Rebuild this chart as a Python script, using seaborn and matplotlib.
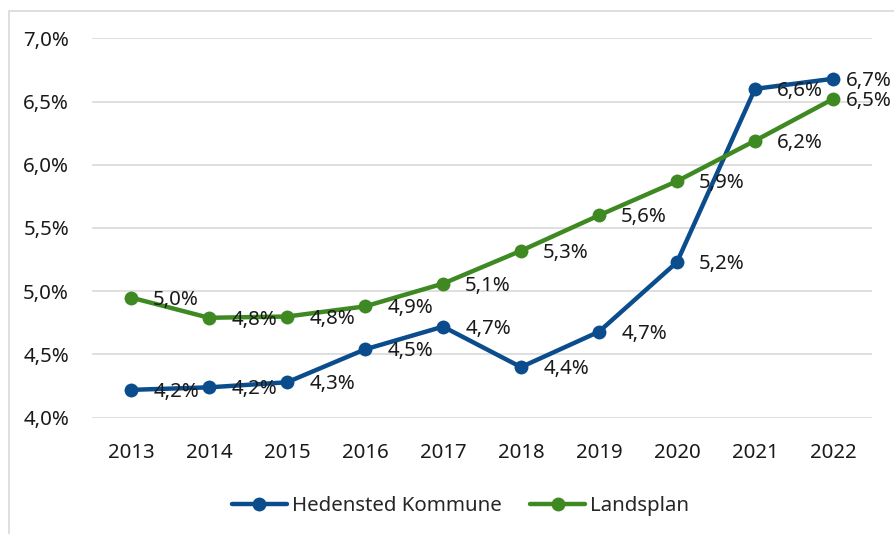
import numpy as np
import pandas as pd
import matplotlib
matplotlib.use("Agg")
import matplotlib.pyplot as plt
import seaborn as sns
from matplotlib.ticker import FuncFormatter
from matplotlib.patches import Rectangle

# Data
years = [2013, 2014, 2015, 2016, 2017, 2018, 2019, 2020, 2021, 2022]
hedensted = [4.22, 4.24, 4.28, 4.54, 4.72, 4.40, 4.68, 5.23, 6.60, 6.68]
landsplan = [4.95, 4.79, 4.80, 4.88, 5.06, 5.32, 5.60, 5.87, 6.19, 6.52]
series_names = ["Hedensted Kommune", "Landsplan"]
colors = ["#0B4D8C", "#3F8923"]

df = pd.DataFrame({
    "year": years * 2,
    "value": hedensted + landsplan,
    "series": [series_names[0]] * len(years) + [series_names[1]] * len(years),
})

sns.set_style("white")
plt.rcParams["font.family"] = ["Noto Sans", "DejaVu Sans"]
FS = 14.7

fig = plt.figure(figsize=(8.94, 5.34), dpi=100)
ax = fig.add_axes([0.1029, 0.2178, 0.8725, 0.7105])

sns.lineplot(data=df, x="year", y="value", hue="series", palette=colors,
             marker="o", markersize=10, markeredgewidth=0, linewidth=3.2,
             ax=ax, legend=False, zorder=3)

# value labels to the right of each point (last one pulled in a little)
for vals in (hedensted, landsplan):
    for x, v in zip(years, vals):
        dx = 9 if x == years[-1] else 16
        ax.annotate(f"{v:.1f}".replace(".", ",") + "%", (x, v),
                    xytext=(dx, -1.5), textcoords="offset points",
                    ha="left", va="center", fontsize=FS, color="#1a1a1a",
                    zorder=4)

ax.set_xlim(2012.5, 2022.5)
ax.set_ylim(4.0, 7.0)
ax.set_xticks(years)
ax.set_yticks(np.arange(4.0, 7.01, 0.5))
ax.yaxis.set_major_formatter(FuncFormatter(lambda v, p: f"{v:.1f}".replace(".", ",") + "%"))
ax.tick_params(axis="both", length=0, labelsize=FS, colors="#1a1a1a")
ax.tick_params(axis="y", pad=16.5)
ax.tick_params(axis="x", pad=18)
ax.set_xlabel("")
ax.set_ylabel("")
ax.grid(axis="y", color="#D9D9D9", linewidth=1.2)
ax.set_axisbelow(True)
for s in ax.spines.values():
    s.set_visible(False)

handles = [plt.Line2D([], [], color=c, marker="o", markersize=10,
                      markeredgewidth=0, linewidth=3.2) for c in colors]
fig.legend(handles, series_names, loc="center", bbox_to_anchor=(0.515, 0.052),
           ncol=2, frameon=False, fontsize=FS, handlelength=2.7,
           handletextpad=0.25, columnspacing=1.4)

# light chart-area frame
fig.patches.append(Rectangle((0.0101, -0.1), 1.2, 0.98 + 0.1,
                             transform=fig.transFigure, fill=False,
                             edgecolor="#D9D9D9", linewidth=1.2))

fig.savefig("out.png", dpi=100)
